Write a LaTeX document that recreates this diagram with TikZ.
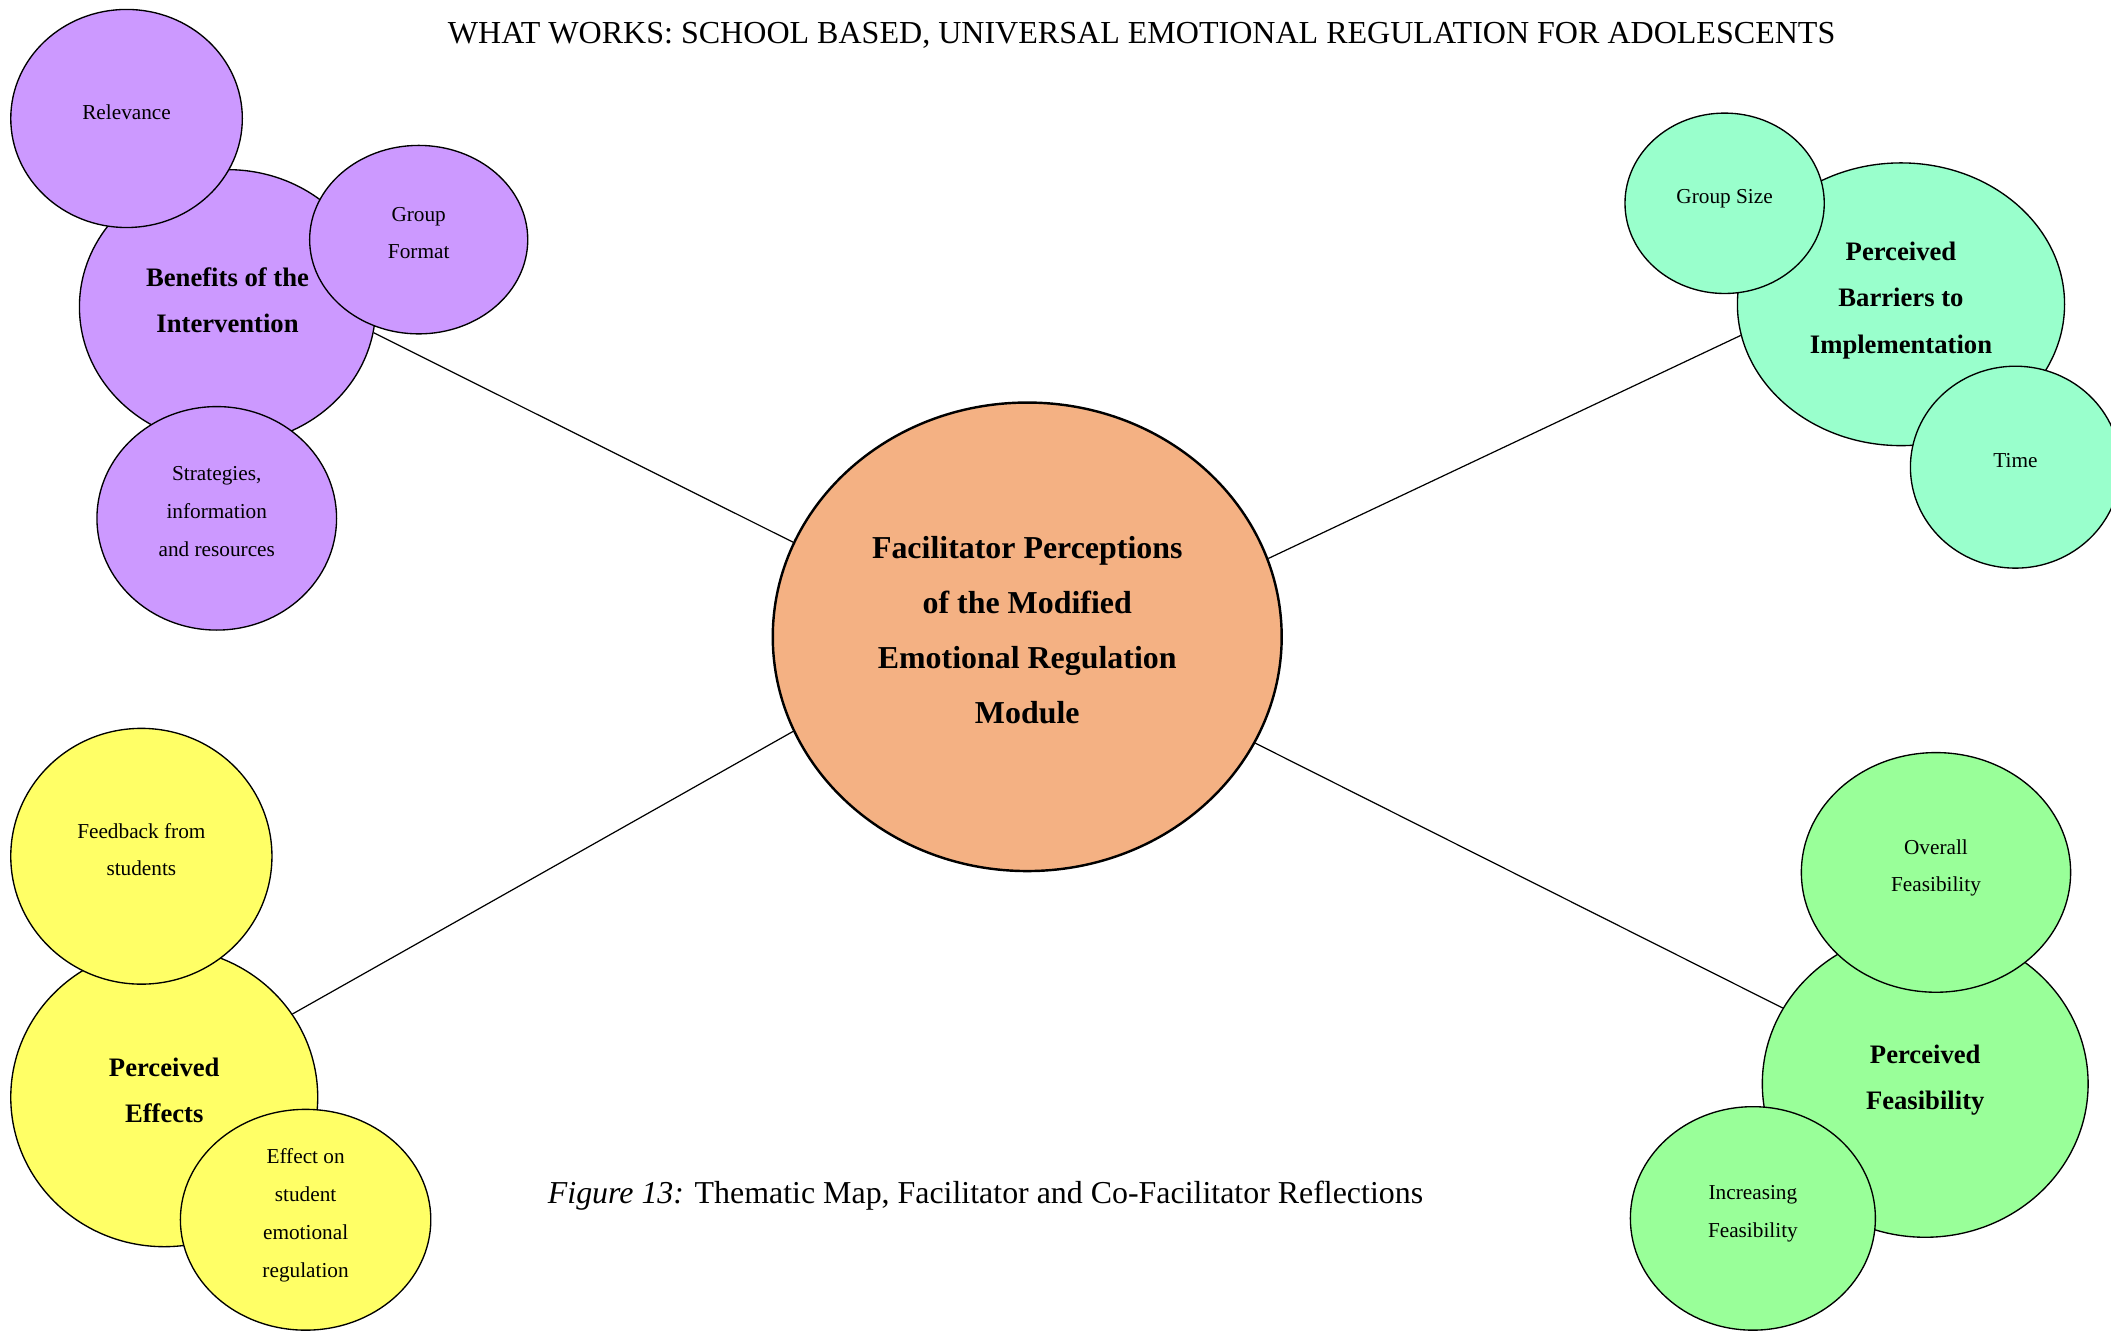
\documentclass[tikz,border=0pt]{standalone}
\usepackage{fontspec}
\setmainfont{Liberation Serif}
\usepackage{xcolor}
\usepackage{tikz}
\usetikzlibrary{shapes.geometric}

\definecolor{benefitcol}{HTML}{CC99FF}
\definecolor{barriercol}{HTML}{99FFCC}
\definecolor{effectcol}{HTML}{FFFF66}
\definecolor{feasiblecol}{HTML}{99FF99}
\definecolor{centralcol}{HTML}{F4B183}

\begin{document}
\begin{tikzpicture}[x=1pt,y=-1pt,
	theme/.style={ellipse,draw=black,line width=1pt,inner sep=0pt,text depth=10pt,align=center,font=\fontsize{19.8}{34.5}\selectfont\bfseries},
	subtheme/.style={ellipse,draw=black,line width=1pt,inner sep=0pt,text depth=10pt,align=center,font=\fontsize{15.8}{28}\selectfont},
	link/.style={draw=black,line width=0.9pt}]
			% PAGE SIZE
			\useasboundingbox (0,0) rectangle (1568,988);
			
			% TITLE AND CAPTION
			\node[font=\fontsize{23.8}{28}\selectfont] (title) at (848,26) {WHAT WORKS: SCHOOL BASED, UNIVERSAL EMOTIONAL REGULATION FOR ADOLESCENTS};
			\node[font=\fontsize{23.7}{28}\selectfont] (caption) at (732,888) {\textit{Figure 13:} Thematic Map, Facilitator and Co-Facilitator Reflections};
			
			% CENTRAL THEME
			\node[theme,fill=centralcol,line width=1.8pt,minimum width=378pt,minimum height=348pt,font=\fontsize{23.7}{41}\selectfont\bfseries] (central) at (763,473) {Facilitator Perceptions\\of the Modified\\Emotional Regulation\\Module};
			
			% BENEFITS OF THE INTERVENTION
			\node[theme,fill=benefitcol,minimum width=220pt,minimum height=204pt] (benefits) at (169,228) {Benefits of the\\Intervention};
			\node[subtheme,fill=benefitcol,minimum width=172pt,minimum height=162pt] (relevance) at (94,88) {Relevance};
			\node[subtheme,fill=benefitcol,minimum width=162pt,minimum height=140pt] (groupformat) at (311,178) {Group\\Format};
			\node[subtheme,fill=benefitcol,minimum width=178pt,minimum height=166pt] (strategies) at (161,385) {Strategies,\\information\\and resources};
			
			% PERCEIVED BARRIERS TO IMPLEMENTATION
			\node[theme,fill=barriercol,minimum width=243pt,minimum height=210pt] (barriers) at (1412,226) {Perceived\\Barriers to\\Implementation};
			\node[subtheme,fill=barriercol,minimum width=148pt,minimum height=134pt] (groupsize) at (1281,151) {Group Size};
			\node[subtheme,fill=barriercol,minimum width=156pt,minimum height=150pt] (time) at (1497,347) {Time};
			
			% PERCEIVED EFFECTS
			\node[theme,fill=effectcol,minimum width=228pt,minimum height=222pt] (effects) at (122,815) {Perceived\\Effects};
			\node[subtheme,fill=effectcol,minimum width=194pt,minimum height=190pt] (feedback) at (105,636) {Feedback from\\students};
			\node[subtheme,fill=effectcol,minimum width=186pt,minimum height=164pt] (effecton) at (227,906) {Effect on\\student\\emotional\\regulation};
			
			% PERCEIVED FEASIBILITY
			\node[theme,fill=feasiblecol,minimum width=242pt,minimum height=228pt] (feasibility) at (1430,805) {Perceived\\Feasibility};
			\node[subtheme,fill=feasiblecol,minimum width=200pt,minimum height=178pt] (overall) at (1438,648) {Overall\\Feasibility};
			\node[subtheme,fill=feasiblecol,minimum width=182pt,minimum height=166pt] (increasing) at (1302,905) {Increasing\\Feasibility};
			
			% LINKS TO CENTRAL THEME
			\draw[link] (central.158) -- (benefits.350);
			\draw[link] (central.18) -- (barriers.191);
			\draw[link] (central.202) -- (effects.33);
			\draw[link] (central.335) -- (feasibility.152);
		\end{tikzpicture}
\end{document}
